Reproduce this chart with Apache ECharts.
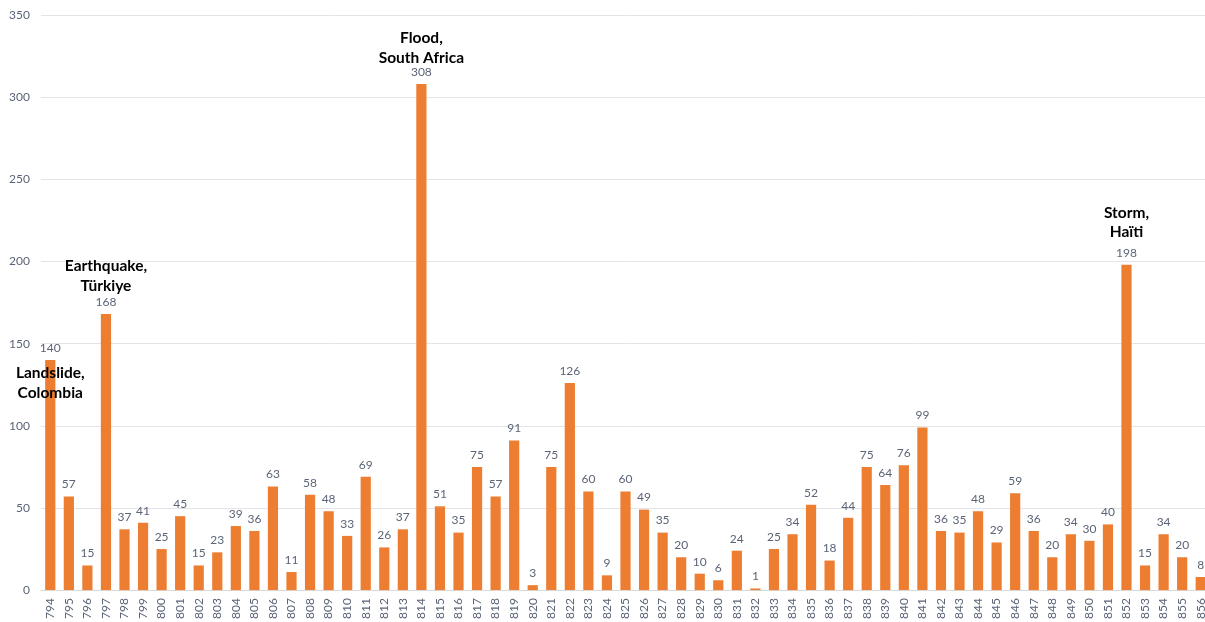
<!DOCTYPE html>
<html>
<head>
<meta charset="utf-8">
<script src="https://cdn.jsdelivr.net/npm/echarts@6/dist/echarts.min.js"></script>
<style>
  html, body { margin: 0; padding: 0; background: #fff; overflow: hidden; }
  #chart { width: 1210px; height: 622px; }
</style>
</head>
<body>
<div id="chart"></div>
<script>
// Event numbers along the x axis
const categories = [];
for (let n = 794; n <= 856; n++) categories.push(String(n));

// Value for each event
const values = [
  140, 57, 15, 168, 37, 41, 25, 45, 15, 23,
  39, 36, 63, 11, 58, 48, 33, 69, 26, 37,
  308, 51, 35, 75, 57, 91, 3, 75, 126, 60,
  9, 60, 49, 35, 20, 10, 6, 24, 1, 25,
  34, 52, 18, 44, 75, 64, 76, 99, 36, 35,
  48, 29, 59, 36, 20, 34, 30, 40, 198, 15,
  34, 20, 8
];

// Named events
const noteCategories = ['794', '797', '814', '852'];
const noteTexts = ['Landslide,\nColombia', 'Earthquake,\nTürkiye', 'Flood,\nSouth Africa', 'Storm,\nHaïti'];

// Y axis ticks
const yMin = 0, yMax = 350, yStep = 50;

// Placement of each note relative to its bar top (pixels)
const notePlacement = [
  { position: 'bottom', distance: 3.5 },
  { position: 'top', distance: 18.5 },
  { position: 'top', distance: 16.5 },
  { position: 'top', distance: 23 }
];

const textColor = '#5b6477';
const fontFamily = 'Lato, "Open Sans", sans-serif';

const markData = noteCategories.map((c, i) => ({
  coord: [c, values[categories.indexOf(c)]],
  label: notePlacement[i]
}));

const chart = echarts.init(document.getElementById('chart'));
chart.setOption({
  animation: false,
  backgroundColor: '#ffffff',
  grid: { left: 41, right: 0, top: 15, bottom: 31, containLabel: false },
  xAxis: {
    type: 'category',
    data: categories,
    axisTick: { show: false },
    axisLine: { show: true, lineStyle: { color: '#d9d9d9', width: 1 } },
    axisLabel: {
      rotate: 90,
      interval: 0,
      margin: 8,
      color: textColor,
      fontFamily: fontFamily,
      fontSize: 12
    }
  },
  yAxis: {
    type: 'value',
    min: yMin,
    max: yMax,
    interval: yStep,
    axisLine: { show: false },
    axisTick: { show: false },
    axisLabel: {
      color: textColor,
      fontFamily: fontFamily,
      fontSize: 12,
      margin: 11
    },
    splitLine: { lineStyle: { color: '#e3e3ea', width: 1 } }
  },
  series: [{
    type: 'bar',
    data: values,
    barCategoryGap: '45%',
    itemStyle: { color: '#ED7D31' },
    label: {
      show: true,
      position: 'top',
      distance: 6,
      color: textColor,
      fontFamily: fontFamily,
      fontSize: 12
    },
    markPoint: {
      symbol: 'circle',
      symbolSize: 0,
      itemStyle: { color: 'rgba(0,0,0,0)' },
      label: {
        show: true,
        formatter: (p) => noteTexts[p.dataIndex],
        color: '#000000',
        fontFamily: fontFamily,
        fontWeight: 'bold',
        fontSize: 15.5,
        lineHeight: 19.5,
        align: 'center'
      },
      data: markData
    }
  }]
});
</script>
</body>
</html>
